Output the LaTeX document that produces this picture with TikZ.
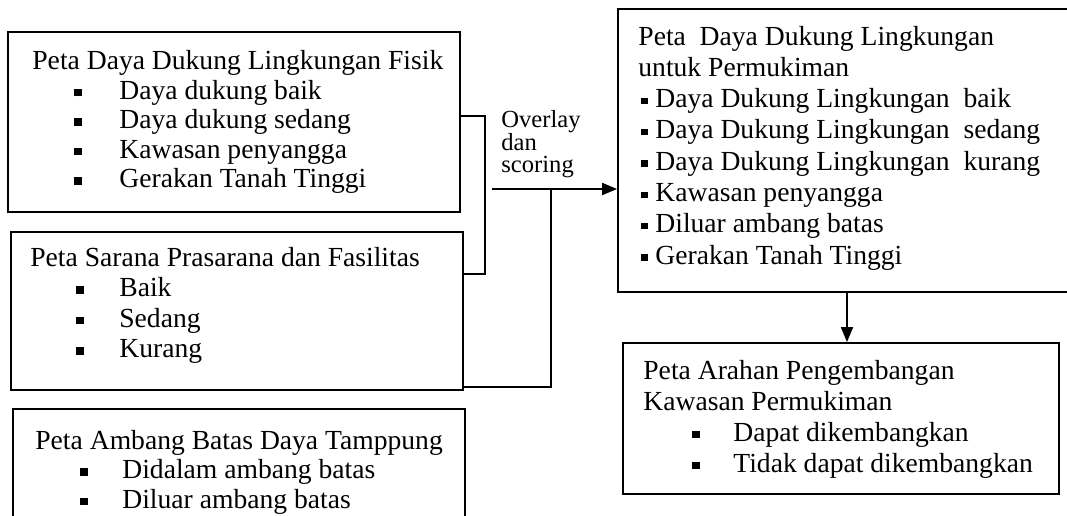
\documentclass[tikz,border=0pt]{standalone}
\usepackage{fontspec}
\setmainfont{Liberation Serif}
\usetikzlibrary{arrows.meta,fit}
\newcommand\bul{\rule[1.3pt]{3.8pt}{3.8pt}}
\newcommand\bulsm{\rule[1.8pt]{3.2pt}{3.2pt}}
\tikzset{
  box/.style={draw, line width=0.9pt, inner sep=0pt},
  txt/.style={inner sep=0pt, anchor=base west, font=\fontsize{13.8}{#1}\selectfont},
  link/.style={draw, line width=0.9pt},
  arr/.style={link, -{Triangle[length=7.5pt,width=6pt]}},
}
\begin{document}
\begin{tikzpicture}[x=0.5pt,y=-0.5pt]
\clip (0,0) rectangle (1067,515);
\fill[white] (0,0) rectangle (1067,515);
% boxes
\node[box, fit={(8,32) (460,212)}] (b1) {};
\node[box, fit={(11,232) (463,390)}] (b2) {};
\node[box, fit={(13,409) (465,540)}] (b3) {};
\node[box, fit={(618,9) (1085,292)}] (b4) {};
\node[box, fit={(623,343) (1059,494)}] (b5) {};
% texts
\node[txt=14.75pt] (t1) at (32,69.5) {\begin{tabular}[t]{@{}l@{}}
Peta Daya Dukung Lingkungan Fisik\\
\hspace*{21pt}\makebox[22.5pt][l]{\bul}Daya dukung baik\\
\hspace*{21pt}\makebox[22.5pt][l]{\bul}Daya dukung sedang\\
\hspace*{21pt}\makebox[22.5pt][l]{\bul}Kawasan penyangga\\
\hspace*{21pt}\makebox[22.5pt][l]{\bul}Gerakan Tanah Tinggi
\end{tabular}};
\node[txt=15.25pt] (t2) at (30,266) {\begin{tabular}[t]{@{}l@{}}
Peta Sarana Prasarana dan Fasilitas\\
\hspace*{23pt}\makebox[21.5pt][l]{\bul}Baik\\
\hspace*{23pt}\makebox[21.5pt][l]{\bul}Sedang\\
\hspace*{23pt}\makebox[21.5pt][l]{\bul}Kurang
\end{tabular}};
\node[txt=14.75pt] (t3) at (35,449) {\begin{tabular}[t]{@{}l@{}}
Peta Ambang Batas Daya Tamppung\\
\hspace*{22.5pt}\makebox[21pt][l]{\bul}Didalam ambang batas\\
\hspace*{22.5pt}\makebox[21pt][l]{\bul}Diluar ambang batas
\end{tabular}};
\node[txt=15.65pt] (t4) at (638,45) {\begin{tabular}[t]{@{}l@{}}
Peta\ \ Daya Dukung Lingkungan\\
untuk Permukiman\\
\hspace*{1.5pt}\makebox[7pt][l]{\bulsm}Daya Dukung Lingkungan\ \ baik\\
\hspace*{1.5pt}\makebox[7pt][l]{\bulsm}Daya Dukung Lingkungan\ \ sedang\\
\hspace*{1.5pt}\makebox[7pt][l]{\bulsm}Daya Dukung Lingkungan\ \ kurang\\
\hspace*{1.5pt}\makebox[7pt][l]{\bulsm}Kawasan penyangga\\
\hspace*{1.5pt}\makebox[7pt][l]{\bulsm}Diluar ambang batas\\
\hspace*{1.5pt}\makebox[7pt][l]{\bulsm}Gerakan Tanah Tinggi
\end{tabular}};
\node[txt=15.5pt] (t5) at (643,379) {\begin{tabular}[t]{@{}l@{}}
Peta Arahan Pengembangan\\
Kawasan Permukiman\\
\hspace*{24.5pt}\makebox[20.5pt][l]{\bul}Dapat dikembangkan\\
\hspace*{24.5pt}\makebox[20.5pt][l]{\bul}Tidak dapat dikembangkan
\end{tabular}};
\node[inner sep=0pt, anchor=base west, font=\fontsize{12.3}{9.9}\selectfont] (ov) at (501,127) {\begin{tabular}[t]{@{}l@{}}Overlay\\dan\\scoring\end{tabular}};
% connectors
\coordinate (j1) at (485,116);
\coordinate (j2) at (485,274);
\draw[link] (b1.east |- j1) -- (j1) -- (j2) -- (b2.east |- j2);
\coordinate (a0) at (492,189);
\draw[arr] (a0) -- (a0 -| b4.west);
\coordinate (v1) at (551,189);
\coordinate (v2) at (551,387);
\draw[link] (v1) -- (v2) -- (v2 -| b2.east);
\coordinate (d0) at (847,300);
\draw[arr] (b4.south -| d0) -- (b5.north -| d0);
\end{tikzpicture}
\end{document}
